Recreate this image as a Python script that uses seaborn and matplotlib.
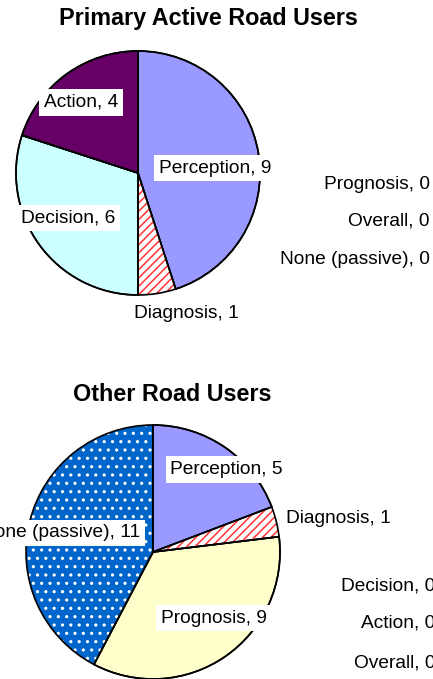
import matplotlib
matplotlib.use("Agg")
import matplotlib.pyplot as plt
import seaborn as sns

# ---------------- data ----------------
top_title = "Primary Active Road Users"
top_categories = ["Perception", "Diagnosis", "Decision", "Action", "Prognosis", "Overall", "None (passive)"]
top_values = [9, 1, 6, 4, 0, 0, 0]

bottom_title = "Other Road Users"
bottom_categories = ["Perception", "Diagnosis", "Prognosis", "None (passive)", "Decision", "Action", "Overall"]
bottom_values = [5, 1, 9, 11, 0, 0, 0]

# ---------------- style ----------------
sns.set_theme(style="white")
plt.rcParams["font.family"] = ["Liberation Sans", "DejaVu Sans"]
plt.rcParams["text.color"] = "black"
plt.rcParams["hatch.linewidth"] = 1.1

face = {
    "Perception": "#9999FF",
    "Diagnosis": "#FFFFFF",
    "Decision": "#CCFFFF",
    "Action": "#660066",
    "Prognosis": "#FFFFCC",
    "None (passive)": "#0066CC",
    "Overall": "#993366",
}
hatch = {
    "Diagnosis": ("////", "#FF3333"),
    "None (passive)": ("..", "#FFFFFF"),
}

LABEL_FS = 13.8
TITLE_FS = 16.8

# label layout in pie-radius units: (x, y, ha, boxed)
top_label_pos = {
    "Perception": (0.635, 0.04, "center", True),
    "Diagnosis": (0.40, -1.15, "center", False),
    "Decision": (-0.57, -0.37, "center", True),
    "Action": (-0.47, 0.58, "center", True),
}
bottom_label_pos = {
    "Perception": (0.58, 0.65, "center", True),
    "Diagnosis": (1.05, 0.26, "left", False),
    "Prognosis": (0.48, -0.52, "center", True),
    "None (passive)": (-0.10, 0.15, "right", True),
}

W, H = 433, 679
fig = plt.figure(figsize=(W / 100, H / 100), dpi=100)


def axes_for(cx, cy, r):
    return fig.add_axes([(cx - r) / W, (H - cy - r) / H, 2 * r / W, 2 * r / H])


def draw_pie(ax, cats, vals, label_pos):
    nz_c = [c for c, v in zip(cats, vals) if v > 0]
    nz_v = [v for v in vals if v > 0]
    wedges, _ = ax.pie(nz_v, colors=[face[c] for c in nz_c], startangle=90,
                       counterclock=False,
                       wedgeprops=dict(edgecolor="black", linewidth=1.2))
    for w, c in zip(wedges, nz_c):
        if c in hatch:
            h, hc = hatch[c]
            w.set_hatch(h)
            w.set_edgecolor(hc)
            w.set_linewidth(0)
    outl, _ = ax.pie(nz_v, colors=["none"] * len(nz_v), startangle=90,
                     counterclock=False,
                     wedgeprops=dict(edgecolor="black", linewidth=1.2, fill=False))
    for w in list(wedges) + list(outl):
        w.set_clip_on(False)
    for c, v in zip(nz_c, nz_v):
        x, y, ha, boxed = label_pos[c]
        kw = {}
        if boxed:
            kw["bbox"] = dict(boxstyle="square,pad=0.25", facecolor="white", edgecolor="none")
        ax.text(x, y, f"{c}, {v}", ha=ha, va="center", fontsize=LABEL_FS,
                color="black", **kw)
    ax.set_xlim(-1, 1)
    ax.set_ylim(-1, 1)
    ax.set_aspect("equal")
    ax.axis("off")


ax1 = axes_for(138, 173, 122)
draw_pie(ax1, top_categories, top_values, top_label_pos)
ax2 = axes_for(153, 552, 127)
draw_pie(ax2, bottom_categories, bottom_values, bottom_label_pos)

fig.text(208 / W, 1 - 19 / H, top_title, ha="center", va="center",
         fontsize=TITLE_FS, fontweight="bold", color="black")
fig.text(172 / W, 1 - 394 / H, bottom_title, ha="center", va="center",
         fontsize=TITLE_FS, fontweight="bold", color="black")

# zero-valued categories listed at the right
top_zero_y = [185, 221, 259]
for c, yy in zip([c for c, v in zip(top_categories, top_values) if v == 0], top_zero_y):
    fig.text(430 / W, 1 - yy / H, f"{c}, 0", ha="right", va="center",
             fontsize=LABEL_FS, color="black")
bottom_zero_y = [586, 623, 663]
for c, yy in zip([c for c, v in zip(bottom_categories, bottom_values) if v == 0], bottom_zero_y):
    fig.text(435 / W, 1 - yy / H, f"{c}, 0", ha="right", va="center",
             fontsize=LABEL_FS, color="black")

fig.savefig("out.png", dpi=100)
